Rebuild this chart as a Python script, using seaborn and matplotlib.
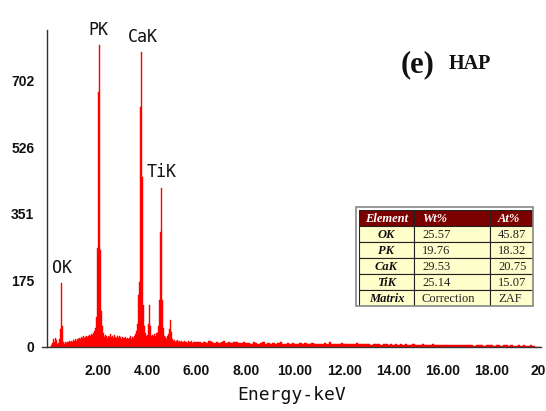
import numpy as np
import pandas as pd
import matplotlib
matplotlib.use("Agg")
import matplotlib.pyplot as plt
import matplotlib.transforms as mtransforms
from matplotlib.patches import Rectangle
import seaborn as sns

# ---- data ----
# low-energy part, 0.04 keV channels starting at 0.00 keV
low_start, low_step = 0.0, 0.04
low_counts = [
    0, 0, 0, 6, 10, 20, 14, 24, 18, 8,
    10, 22, 48, 169, 55, 12, 8, 12, 10, 14,
    12, 15, 13, 16, 14, 18, 16, 20, 17, 22,
    20, 24, 22, 26, 23, 28, 25, 27, 30, 26,
    29, 32, 28, 34, 31, 36, 42, 50, 80, 261,
    673, 797, 255, 95, 55, 38, 30, 26, 32, 28,
    24, 30, 27, 33, 26, 29, 24, 31, 27, 25,
    28, 24, 30, 26, 22, 27, 25, 23, 26, 22,
    25, 21, 24, 28, 22, 26, 24, 30, 35, 42,
    60, 137, 172, 634, 779, 449, 110, 55, 38, 28,
    32, 60, 111, 55, 28, 32, 28, 34, 30, 38,
    38, 55, 124, 303, 420, 124, 50, 30, 26, 22,
    24, 30, 35, 48, 71, 40, 22, 16, 18, 14,
    15, 18, 13, 16, 12, 17, 14, 12, 15, 13,
    14, 11, 16, 12, 13, 15, 11, 14, 12, 13,
]
# high-energy part, 0.1 keV channels starting at 6.0 keV
high_start, high_step = 6.0, 0.1
high_counts = [
    12, 14, 10, 13, 11, 15, 12, 10, 13, 11,
    12, 16, 11, 13, 10, 12, 14, 11, 10, 12,
    10, 11, 9, 13, 10, 9, 11, 12, 9, 10,
    9, 11, 8, 10, 12, 9, 8, 10, 9, 11,
    8, 9, 10, 8, 11, 9, 8, 10, 9, 8,
    9, 8, 10, 7, 12, 8, 9, 7, 8, 10,
    7, 8, 9, 7, 8, 10, 7, 8, 7, 9,
    7, 6, 8, 7, 9, 6, 8, 7, 6, 8,
    6, 7, 5, 8, 6, 7, 6, 5, 7, 6,
    5, 6, 7, 5, 6, 5, 8, 5, 6, 5,
    5, 4, 6, 5, 4, 6, 5, 4, 5, 6,
    4, 5, 4, 3, 6, 4, 5, 3, 4, 5,
    4, 3, 5, 4, 3, 4, 6, 3, 4, 3,
    3, 4, 3, 5, 2, 3, 4, 2, 0, 0,
]
peak_labels = ["OK", "PK", "CaK", "TiK"]
peak_label_x = [0.53, 2.03, 3.82, 4.59]
peak_label_y = [208, 837, 818, 462]

yticks = [0, 175.5, 351, 526.5, 702]
ytick_labels = ["0", "175", "351", "526", "702"]
xticks = [2, 4, 6, 8, 10, 12, 14, 16, 18, 20]
xtick_labels = ["2.00", "4.00", "6.00", "8.00", "10.00", "12.00", "14.00", "16.00", "18.00", "20"]

table_header = ["Element", "Wt%", "At%"]
table_elements = ["OK", "PK", "CaK", "TiK", "Matrix"]
table_wt = ["25.57", "19.76", "29.53", "25.14", "Correction"]
table_at = ["45.87", "18.32", "20.75", "15.07", "ZAF"]

low_df = pd.DataFrame({"E": low_start + low_step * np.arange(len(low_counts)),
                       "c": low_counts})
high_df = pd.DataFrame({"E": high_start + high_step * np.arange(len(high_counts)),
                        "c": high_counts})

# ---- figure ----
W, H = 546, 411
fig = plt.figure(figsize=(W / 100, H / 100), dpi=100)
sns.set_style("white")

def fx(px):
    return px / W

def fy(py):
    return 1 - py / H

ax_l, ax_r, ax_t, ax_b = 42, 541, 30, 347
ax = fig.add_axes([fx(ax_l), fy(ax_b), fx(ax_r) - fx(ax_l), fy(ax_t) - fy(ax_b)])

sns.histplot(data=low_df, x="E", weights="c", binwidth=low_step,
             binrange=(low_start - low_step / 2, low_start + low_step * (len(low_counts) - 0.5)),
             element="bars", fill=True, color="#ff0000", edgecolor="#ff0000",
             linewidth=0.3, alpha=1, ax=ax)
sns.histplot(data=high_df, x="E", weights="c", binwidth=high_step,
             binrange=(high_start - high_step / 2 + 0.03, high_start + high_step * (len(high_counts) - 0.5)),
             element="bars", fill=True, color="#ff0000", edgecolor="#ff0000",
             linewidth=0.3, alpha=1, ax=ax)

ax.set_xlim(-0.28, 20)
ax.set_ylim(0, 836)
ax.spines["left"].set_position(("data", -0.08))
for s in ["top", "right"]:
    ax.spines[s].set_visible(False)
for s in ["left", "bottom"]:
    ax.spines[s].set_color("#333333")
    ax.spines[s].set_linewidth(1.0)

ax.set_xticks(xticks)
ax.set_xticklabels(xtick_labels)
ax.set_yticks(yticks)
ax.set_yticklabels(ytick_labels)
ax.tick_params(axis="x", direction="out", length=5, width=1, color="#333333", pad=7,
               labelsize=10)
ax.tick_params(axis="y", direction="out", length=4, width=1, color="#333333", pad=5,
               labelsize=10)
for lab in ax.get_xticklabels() + ax.get_yticklabels():
    lab.set_fontfamily("Liberation Sans")
    lab.set_fontweight("bold")
    lab.set_color("#111111")
# pull the last x label ("20") slightly inward so it stays on the canvas
last = ax.get_xticklabels()[-1]
last.set_transform(last.get_transform() +
                   mtransforms.ScaledTranslation(-3 / 100, 0, fig.dpi_scale_trans))

ax.set_ylabel("")
ax.set_xlabel("Energy-keV", fontfamily="DejaVu Sans Mono", fontsize=13,
              color="#111111", labelpad=6)

for t, x, y in zip(peak_labels, peak_label_x, peak_label_y):
    ax.text(x, y, t, ha="center", va="center", fontfamily="DejaVu Sans Mono",
            fontsize=12, color="#111111", clip_on=False)

# title
fig.text(fx(401), fy(65), "(e)", fontfamily="Liberation Serif", fontweight="bold",
         fontsize=22, ha="left", va="center", color="#111111")
fig.text(fx(449), fy(64), "HAP", fontfamily="Liberation Serif", fontweight="bold",
         fontsize=14.5, ha="left", va="center", color="#111111")

# ---- results table ----
tl, tr, tt, tb = 359, 533, 210, 306
tax = fig.add_axes([fx(tl), fy(tb), fx(tr) - fx(tl), fy(tt) - fy(tb)])
tax.set_xlim(0, tr - tl)
tax.set_ylim(tb - tt, 0)
tax.axis("off")
col_edges = [0, 55, 131, tr - tl]
nrows = len(table_elements) + 1
row_h = (tb - tt) / nrows
# gray frame
fig.patches.append(Rectangle((fx(tl - 3), fy(tb)), fx(tr) - fx(tl - 3), fy(tt - 3) - fy(tb),
                             transform=fig.transFigure, facecolor="none",
                             edgecolor="#888888", linewidth=1.2))
for r in range(nrows):
    y0 = r * row_h
    if r == 0:
        fc = "#7b0000"
        texts = table_header
    else:
        fc = "#ffffcc"
        texts = [table_elements[r - 1], table_wt[r - 1], table_at[r - 1]]
    for c in range(3):
        x0, x1 = col_edges[c], col_edges[c + 1]
        tax.add_patch(Rectangle((x0, y0), x1 - x0, row_h, facecolor=fc,
                                edgecolor="#222222", linewidth=0.8))
        if r == 0:
            kw = dict(color="white", fontweight="bold", fontstyle="italic")
        elif c == 0:
            kw = dict(color="#111111", fontweight="bold", fontstyle="italic")
        else:
            kw = dict(color="#222222")
        if c == 0:
            tax.text((x0 + x1) / 2, y0 + row_h / 2 + 0.5, texts[c], ha="center",
                     va="center", fontfamily="Liberation Serif", fontsize=9, **kw)
        else:
            tax.text(x0 + 8, y0 + row_h / 2 + 0.5, texts[c], ha="left",
                     va="center", fontfamily="Liberation Serif", fontsize=9, **kw)

fig.savefig("out.png", dpi=100)
